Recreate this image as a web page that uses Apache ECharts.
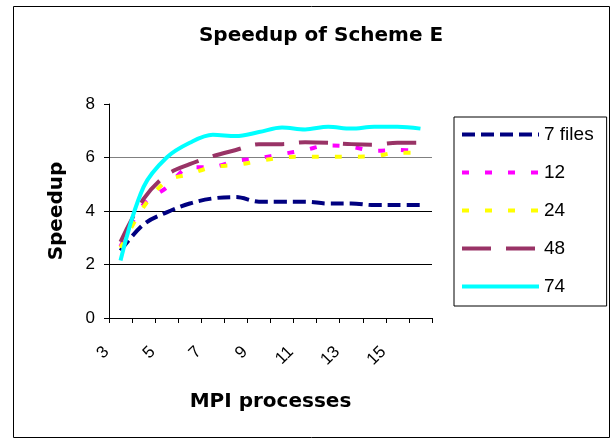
<!DOCTYPE html>
<html><head><meta charset="utf-8">
<script src="https://cdn.jsdelivr.net/npm/echarts@6/dist/echarts.min.js"></script>
<style>html,body{margin:0;padding:0;background:#fff}#c{width:616px;height:443px}</style>
</head><body><div id="c"></div>
<script>
var categories = ['3','4','5','6','7','8','9','10','11','12','13','14','15','16'];
var files7  = [2.52, 3.5, 3.95, 4.28, 4.47, 4.52, 4.35, 4.35, 4.35, 4.28, 4.28, 4.22, 4.22, 4.22];
var files12 = [2.67, 4.25, 4.88, 5.63, 5.65, 5.87, 5.98, 6.13, 6.28, 6.45, 6.4, 6.25, 6.28, 6.25];
var files24 = [2.62, 4.15, 5.12, 5.38, 5.65, 5.72, 5.87, 6.0, 6.03, 6.03, 6.03, 6.05, 6.18, 6.18];
var files48 = [2.85, 4.45, 5.35, 5.75, 6.05, 6.28, 6.5, 6.5, 6.57, 6.55, 6.5, 6.48, 6.55, 6.55];
var files74 = [2.15, 4.9, 6.0, 6.55, 6.85, 6.8, 6.95, 7.12, 7.05, 7.15, 7.08, 7.15, 7.15, 7.08];
var seriesNames = ['7 files','12','24','48','74'];
var yTicks = [0, 2, 4, 6, 8];

var F = 'Liberation Sans, Arial, sans-serif';
var FB = 'DejaVu Sans, Liberation Sans, sans-serif';
var chart = echarts.init(document.getElementById('c'));
function mk(name, data, color, dash) {
  return {
    name: name, type: 'line', data: data, symbol: 'none', smooth: 0.35,
    lineStyle: { color: color, width: 4, type: dash, cap: 'butt' },
    itemStyle: { color: color },
    emphasis: { disabled: true }, animation: false
  };
}
chart.setOption({
  animation: false,
  backgroundColor: '#fff',
  title: {
    text: 'Speedup of Scheme E', left: 316, textAlign: 'center', top: 21,
    textStyle: { fontFamily: FB, fontSize: 20, fontWeight: 'bold', color: '#000' }
  },
  legend: {
    orient: 'vertical', left: 454, top: 117,
    padding: [8, 13, 10, 6], itemGap: 19, itemWidth: 77, itemHeight: 14,
    borderColor: '#000', borderWidth: 1,
    itemStyle: { opacity: 0, borderWidth: 0 },
    lineStyle: { width: 4 },
    textStyle: { fontFamily: F, fontSize: 19, color: '#000' },
    data: seriesNames
  },
  grid: { left: 109, right: 184, top: 104, bottom: 125, containLabel: false },
  xAxis: {
    type: 'category', data: categories, boundaryGap: true,
    axisLine: { lineStyle: { color: '#000', width: 1 } },
    axisTick: { show: true, interval: 0, length: 5, lineStyle: { color: '#000' } },
    axisLabel: { interval: 1, rotate: 45, fontFamily: F, fontSize: 17, color: '#000', margin: 17, padding: [0, 20, 0, 0] },
    name: 'MPI processes', nameLocation: 'middle', nameGap: 74,
    nameTextStyle: { fontFamily: FB, fontSize: 20, fontWeight: 'bold', color: '#000' }
  },
  yAxis: {
    type: 'value', min: yTicks[0], max: yTicks[yTicks.length - 1], interval: 2,
    axisLine: { show: true, lineStyle: { color: '#000', width: 1 } },
    axisTick: { show: true, length: 5, lineStyle: { color: '#000' } },
    axisLabel: { fontFamily: F, fontSize: 17, color: '#000', margin: 14 },
    splitLine: { show: true, lineStyle: { color: ['#000', '#000', '#000', '#808080', 'rgba(0,0,0,0)'], width: 1 } },
    name: 'Speedup', nameLocation: 'middle', nameGap: 42, nameRotate: 90,
    nameTextStyle: { fontFamily: FB, fontSize: 20, fontWeight: 'bold', color: '#000' }
  },
  graphic: [{
    type: 'rect', shape: { x: 13.5, y: 6.5, width: 596, height: 431 },
    style: { fill: 'none', stroke: '#000', lineWidth: 1 }, silent: true, z: -1
  }],
  series: [
    mk(seriesNames[0], files7, '#000080', [13, 6]),
    mk(seriesNames[1], files12, '#FF00FF', [7, 16]),
    mk(seriesNames[2], files24, '#FFFF00', [7, 16]),
    mk(seriesNames[3], files48, '#993366', [29, 15]),
    mk(seriesNames[4], files74, '#00FFFF', 'solid')
  ]
});
</script></body></html>
